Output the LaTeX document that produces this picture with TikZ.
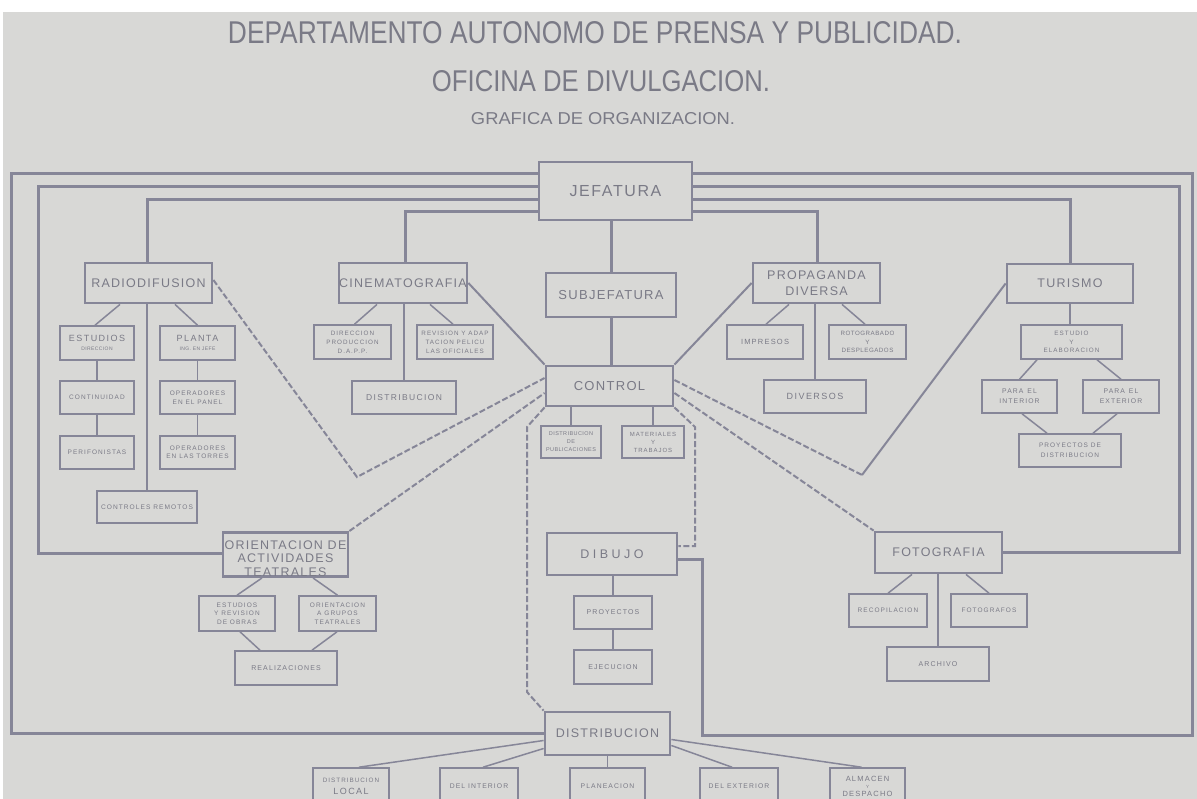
\documentclass[tikz,border=0pt]{standalone}
\usepackage{fontspec}
\setmainfont{Liberation Sans}
\newfontfamily\lblfont[LetterSpace=10]{Liberation Sans}
\newfontfamily\widelbl[LetterSpace=28]{Liberation Sans}
\newfontfamily\smfont[LetterSpace=16]{Liberation Sans}
\newfontfamily\tinyfont[LetterSpace=8]{Liberation Sans}
\usetikzlibrary{calc}
\definecolor{bgc}{RGB}{216,216,214}
\definecolor{lc}{RGB}{134,134,152}
\definecolor{tc}{RGB}{122,122,134}
\newcommand{\bx}[7]{\node[#2, minimum width={(#5)-(#3)}, minimum height={(#6)-(#4)}] (#1) at ({((#3)+(#5))/2},{((#4)+(#6))/2}) {#7};}
\newcommand{\fs}[1]{\fontsize{#1}{#1}\selectfont}
\tikzset{
  mainbox/.style={draw=lc, line width=2.8pt, inner sep=0pt, text=tc, align=center, font=\lblfont\fontsize{12.5}{14}\selectfont},
  smallbox/.style={draw=lc, line width=1.6pt, inner sep=0pt, text=tc, align=center, font=\smfont\fontsize{6.5}{8.5}\selectfont},
  loopln/.style={draw=lc, line width=3pt},
  thinln/.style={draw=lc, line width=1.5pt},
  medln/.style={draw=lc, line width=2pt},
  dashln/.style={draw=lc, line width=2pt, dash pattern=on 6pt off 2.5pt},
  ttl/.style={inner sep=0pt, text=tc},
}
\begin{document}
\begin{tikzpicture}[x=1pt,y=-1pt]
\useasboundingbox (0,0) rectangle (1197,799);
\clip (0,0) rectangle (1197,799);
\fill[white] (0,0) rectangle (1197,799);
\fill[bgc] (3,12) rectangle (1197,799);

% titles
\node[ttl] (t1) at (595,33) {\resizebox{734pt}{22pt}{DEPARTAMENTO AUTONOMO DE PRENSA Y PUBLICIDAD.}};
\node[ttl] (t2) at (601,81) {\resizebox{338pt}{21pt}{OFICINA DE DIVULGACION.}};
\node[ttl] (t3) at (603,119) {\resizebox{264pt}{12pt}{GRAFICA DE ORGANIZACION.}};

% main boxes
\bx{jef}{mainbox,font=\lblfont\fontsize{16}{18}\selectfont}{539}{162}{692}{220}{JEFATURA}
\bx{sub}{mainbox,font=\lblfont\fontsize{13}{14}\selectfont}{546}{273}{676}{317}{SUBJEFATURA}
\bx{ctrl}{mainbox,font=\lblfont\fontsize{13}{14}\selectfont}{546}{366}{673}{406}{CONTROL}
\bx{radio}{mainbox}{85}{263}{212}{303}{RADIODIFUSION}
\bx{cine}{mainbox}{339}{263}{467}{303}{CINEMATOGRAFIA}
\bx{prop}{mainbox,font=\lblfont\fontsize{12.5}{16}\selectfont}{753}{263}{880}{303}{PROPAGANDA\\DIVERSA}
\bx{tur}{mainbox}{1007}{264}{1133}{303}{TURISMO}
\bx{orient}{mainbox,font=\lblfont\fontsize{12.5}{13.5}\selectfont}{223}{534}{348}{575}{\rule{0pt}{17pt}ORIENTACION DE\\ACTIVIDADES\\TEATRALES}
\bx{dibujo}{mainbox,font=\widelbl\fontsize{12.5}{14}\selectfont}{547}{533}{677}{575}{DIBUJO}
\bx{foto}{mainbox}{875}{532}{1002}{573}{FOTOGRAFIA}
\bx{distrib}{mainbox}{545}{712}{670}{755}{DISTRIBUCION}

% radiodifusion group
\bx{est}{smallbox}{60}{326}{134}{360}{{\fs{9}ESTUDIOS}\\[1pt]{\tinyfont\fs{5}DIRECCION}}
\bx{planta}{smallbox}{160}{326}{235}{360}{{\fs{9}PLANTA}\\[1pt]{\tinyfont\fs{5}ING. EN JEFE}}
\bx{cont}{smallbox}{60}{381}{134}{414}{CONTINUIDAD}
\bx{opanel}{smallbox}{160}{381}{235}{414}{OPERADORES\\EN EL PANEL}
\bx{perif}{smallbox}{60}{436}{134}{469}{PERIFONISTAS}
\bx{otorres}{smallbox}{160}{436}{235}{469}{OPERADORES\\EN LAS TORRES}
\bx{ctrlrem}{smallbox,font=\smfont\fs{6.6}}{97}{491}{197}{523}{CONTROLES REMOTOS}

% cinematografia group
\bx{dirprod}{smallbox,font=\smfont\fontsize{6.3}{9}\selectfont}{314}{325}{391}{359}{DIRECCION\\PRODUCCION\\D.A.P.P.}
\bx{revision}{smallbox,font=\smfont\fontsize{6.3}{9}\selectfont}{417}{325}{493}{359}{REVISION Y ADAP\\TACION PELICU\\LAS OFICIALES}
\bx{distcine}{smallbox,font=\smfont\fs{8.5}}{352}{381}{456}{414}{DISTRIBUCION}

% control group
\bx{distpub}{smallbox,font=\tinyfont\fontsize{5.5}{8}\selectfont}{541}{426}{601}{458}{DISTRIBUCION\\DE\\PUBLICACIONES}
\bx{mater}{smallbox,font=\smfont\fontsize{6}{8}\selectfont}{622}{426}{684}{458}{MATERIALES\\Y\\TRABAJOS}

% propaganda group
\bx{impresos}{smallbox,font=\smfont\fs{7.5}}{727}{325}{803}{359}{IMPRESOS}
\bx{roto}{smallbox,font=\tinyfont\fontsize{6.2}{8.5}\selectfont}{829}{325}{906}{359}{ROTOGRABADO\\Y\\DESPLEGADOS}
\bx{diversos}{smallbox,font=\smfont\fs{9}}{764}{380}{866}{413}{DIVERSOS}

% turismo group
\bx{estelab}{smallbox,font=\smfont\fontsize{6.3}{8.5}\selectfont}{1021}{325}{1122}{359}{ESTUDIO\\Y\\ELABORACION}
\bx{pint}{smallbox,font=\smfont\fontsize{6.8}{10}\selectfont}{982}{380}{1057}{413}{PARA\hspace{4pt}EL\\INTERIOR}
\bx{pext}{smallbox,font=\smfont\fontsize{6.8}{10}\selectfont}{1083}{380}{1159}{413}{PARA\hspace{4pt}EL\\EXTERIOR}
\bx{proyd}{smallbox,font=\smfont\fontsize{6.5}{10}\selectfont}{1019}{434}{1121}{467}{PROYECTOS DE\\DISTRIBUCION}

% orientacion group
\bx{estrev}{smallbox,font=\smfont\fontsize{6.5}{8.5}\selectfont}{199}{596}{275}{631}{ESTUDIOS\\Y REVISION\\DE OBRAS}
\bx{orgrp}{smallbox,font=\smfont\fontsize{6.5}{8.5}\selectfont}{299}{596}{376}{631}{ORIENTACION\\A GRUPOS\\TEATRALES}
\bx{realiz}{smallbox,font=\smfont\fs{7}}{235}{651}{337}{685}{REALIZACIONES}

% dibujo group
\bx{proy}{smallbox,font=\smfont\fs{7}}{574}{596}{652}{629}{PROYECTOS}
\bx{ejec}{smallbox,font=\smfont\fs{7}}{574}{650}{652}{684}{EJECUCION}

% fotografia group
\bx{recop}{smallbox,font=\smfont\fs{6.5}}{849}{594}{927}{627}{RECOPILACION}
\bx{fotogr}{smallbox,font=\smfont\fs{6.5}}{951}{594}{1027}{627}{FOTOGRAFOS}
\bx{archivo}{smallbox,font=\smfont\fs{7}}{887}{647}{989}{681}{ARCHIVO}

% distribucion group
\bx{dloc}{smallbox,font=\smfont\fontsize{6.3}{12}\selectfont}{313}{768}{389}{805}{DISTRIBUCION\\{\fs{9}LOCAL}}
\bx{dint}{smallbox,font=\smfont\fs{6.8}}{440}{768}{518}{805}{DEL INTERIOR}
\bx{plan}{smallbox,font=\smfont\fs{6.8}}{570}{768}{645}{805}{PLANEACION}
\bx{dext}{smallbox,font=\smfont\fs{6.8}}{700}{768}{778}{805}{DEL EXTERIOR}
\bx{alm}{smallbox,font=\smfont\fontsize{7.5}{9}\selectfont}{830}{768}{905}{805}{ALMACEN\\[-2pt]{\fs{4.5}Y}\\[-1pt]DESPACHO}

% coordinates for bends
\coordinate (c1a) at (11,174);   \coordinate (c1b) at (11,733);
\coordinate (c2a) at (38,187);   \coordinate (c2b) at (38,553);
\coordinate (c3a) at (147,200);
\coordinate (c4a) at (405,212);
\coordinate (r1a) at (1192,174); \coordinate (r1b) at (1192,735);
\coordinate (r1c) at (702,735);  \coordinate (r1d) at (702,559);
\coordinate (r2a) at (1179,187); \coordinate (r2b) at (1179,552);
\coordinate (r3a) at (1070,200);
\coordinate (r4a) at (817,212);
\coordinate (v1) at (357,477);
\coordinate (v2) at (862,475);
\coordinate (dl1) at (527,427);  \coordinate (dl2) at (527,692);
\coordinate (dr1) at (695,427);  \coordinate (dr2) at (695,546);

% jefatura loops
\draw[loopln] (jef.west |- c1a) -- (c1a) -- (c1b) -- (distrib.west |- c1b);
\draw[loopln] (jef.west |- c2a) -- (c2a) -- (c2b) -- (orient.west |- c2b);
\draw[loopln] (jef.west |- c3a) -- (c3a) -- (radio.north -| c3a);
\draw[loopln] (jef.west |- c4a) -- (c4a) -- (cine.north -| c4a);
\draw[loopln] (jef.east |- r1a) -- (r1a) -- (r1b) -- (r1c) -- (r1d) -- (dibujo.east |- r1d);
\draw[loopln] (jef.east |- r2a) -- (r2a) -- (r2b) -- (foto.east |- r2b);
\draw[loopln] (jef.east |- r3a) -- (r3a) -- (tur.north -| r3a);
\draw[loopln] (jef.east |- r4a) -- (r4a) -- (prop.north -| r4a);
\draw[loopln] (jef.south -| sub.north) -- (sub.north);
\draw[loopln] (sub.south) -- (ctrl.north -| sub.south);

% control connections
\draw[dashln] ([yshift=3pt]radio.east) -- (v1) -- ([yshift=8pt]ctrl.west);
\draw[medln] (cine.east) -- (ctrl.north west);
\draw[dashln] (orient.north east) -- ([yshift=-7pt]ctrl.west);
\draw[medln] (prop.west) -- (ctrl.north east);
\draw[dashln] ([yshift=6pt]ctrl.east) -- (v2);
\draw[medln] (v2) -- (tur.west);
\draw[dashln] ([yshift=-7pt]ctrl.east) -- (foto.north west);
\draw[dashln] (ctrl.south west) -- (dl1) -- (dl2) -- (distrib.north west);
\draw[dashln] (ctrl.south east) -- (dr1) -- (dr2) -- (dibujo.east |- dr2);

% radio group connectors
\draw[thinln] ([xshift=-28.5pt]radio.south) -- ([xshift=-2pt]est.north);
\draw[thinln] ([xshift=26.5pt]radio.south) -- (planta.north);
\draw[thinln] (radio.south -| ctrlrem.north) -- (ctrlrem.north);
\draw[thinln] (est.south) -- (cont.north);
\draw[thinln] (cont.south) -- (perif.north);
\draw[thinln] (planta.south) -- (opanel.north);
\draw[thinln] (opanel.south) -- (otorres.north);

% cine group
\draw[thinln] ([xshift=-26pt]cine.south) -- ([xshift=2pt]dirprod.north);
\draw[thinln] ([xshift=27pt]cine.south) -- ([xshift=-2pt]revision.north);
\draw[thinln] (cine.south -| distcine.north) -- (distcine.north);

% control group
\draw[thinln] (ctrl.south -| distpub.north) -- (distpub.north);
\draw[thinln] (ctrl.south -| mater.north) -- (mater.north);

% propaganda group
\draw[thinln] ([xshift=-27.5pt]prop.south) -- ([xshift=1pt]impresos.north);
\draw[thinln] ([xshift=25.5pt]prop.south) -- ([xshift=-2.5pt]roto.north);
\draw[thinln] (prop.south -| diversos.north) -- (diversos.north);

% turismo group
\draw[thinln] (tur.south) -- (tur.south |- estelab.north);
\draw[thinln] ([xshift=-34.5pt]estelab.south) -- (pint.north);
\draw[thinln] ([xshift=25.5pt]estelab.south) -- (pext.north);
\draw[thinln] ([xshift=2.5pt]pint.south) -- ([xshift=-23pt]proyd.north);
\draw[thinln] ([xshift=-4pt]pext.south) -- ([xshift=23pt]proyd.north);

% orientacion group
\draw[thinln] ([xshift=-23.5pt]orient.south) -- (estrev.north);
\draw[thinln] ([xshift=27.5pt]orient.south) -- (orgrp.north);
\draw[thinln] ([xshift=3pt]estrev.south) -- ([xshift=-26pt]realiz.north);
\draw[thinln] ([xshift=-0.5pt]orgrp.south) -- ([xshift=26pt]realiz.north);

% dibujo group
\draw[thinln] (dibujo.south -| proy.north) -- (proy.north);
\draw[thinln] (proy.south) -- (ejec.north);

% fotografia group
\draw[thinln] ([xshift=-26.5pt]foto.south) -- (recop.north);
\draw[thinln] ([xshift=27.5pt]foto.south) -- (fotogr.north);
\draw[thinln] (foto.south -| archivo.north) -- (archivo.north);

% distribucion group
\draw[thinln] ([yshift=-7pt]distrib.west) -- ([xshift=8pt]dloc.north);
\draw[thinln] ([yshift=-15pt]distrib.west) -- ([xshift=4pt]dint.north);
\draw[thinln] (distrib.south) -- (plan.north);
\draw[thinln] ([yshift=-12pt]distrib.east) -- ([xshift=-7pt]dext.north);
\draw[thinln] ([yshift=-6pt]distrib.east) -- ([xshift=-6pt]alm.north);
\end{tikzpicture}
\end{document}
